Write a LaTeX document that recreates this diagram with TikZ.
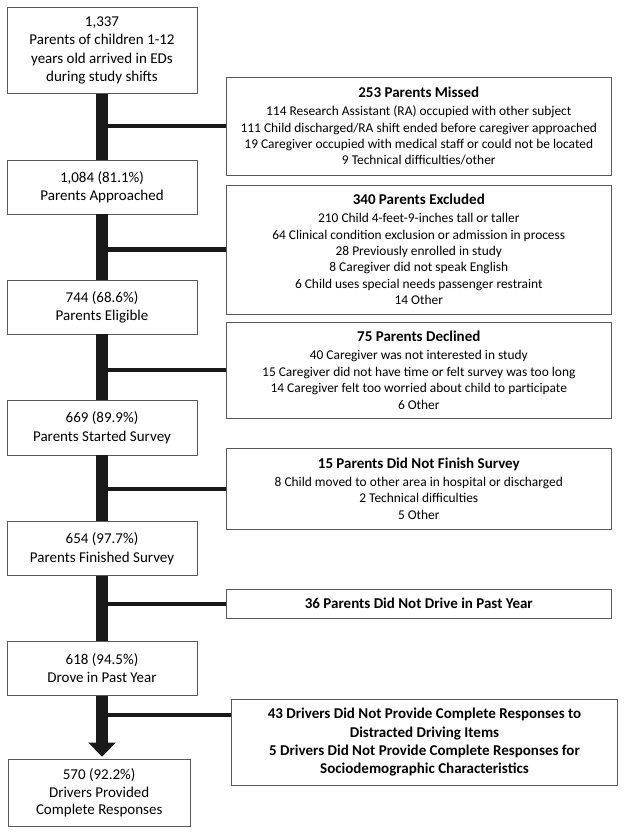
\documentclass[tikz,border=0pt]{standalone}
\usepackage{fontspec}
\setmainfont{Carlito}
\usetikzlibrary{arrows.meta,calc}
\newcommand{\hd}[1]{{\fontsize{15}{18}\selectfont\bfseries #1}}
\begin{document}
\begin{tikzpicture}[x=1pt,y=-1pt,
  lbox/.style={draw=black!65, line width=0.8pt, fill=white, minimum width=190pt, align=center,
    font=\fontsize{15}{18.3}\selectfont, inner sep=0pt},
  rbox/.style={draw=black!65, line width=0.8pt, fill=white, minimum width=385.7pt, align=center,
    font=\fontsize{13.4}{16.4}\selectfont, inner sep=0pt},
  bbox/.style={rbox, font=\fontsize{15}{18.4}\selectfont\bfseries},
  bar/.style={line width=12pt, black!90},
  branch/.style={line width=4.3pt, black!90}]
\useasboundingbox (0,0) rectangle (625,835);

% left column
\node[lbox, minimum height=86pt] (b1) at (102,50.3) {1,337\\Parents of children 1-12\\years old arrived in EDs\\during study shifts};
\node[lbox, minimum height=53.3pt] (b2) at (102,187.3) {1,084 (81.1\%)\\Parents Approached};
\node[lbox, minimum height=53.3pt] (b3) at (102,307.3) {744 (68.6\%)\\Parents Eligible};
\node[lbox, minimum height=54.3pt] (b4) at (102,427.8) {669 (89.9\%)\\Parents Started Survey};
\node[lbox, minimum height=54pt] (b5) at (102,548.7) {654 (97.7\%)\\Parents Finished Survey};
\node[lbox, minimum height=54pt] (b6) at (102,668.3) {618 (94.5\%)\\Drove in Past Year};
\node[lbox, minimum width=182.4pt, minimum height=67.7pt, font=\fontsize{15}{17.2}\selectfont] (b7) at (99.2,792.8) {570 (92.2\%)\\Drivers Provided\\Complete Responses};

% right column
\node[rbox, minimum height=97.3pt] (r1) at (418.8,126.3) {\hd{253 Parents Missed}\\[1.5pt]114 Research Assistant (RA) occupied with other subject\\111 Child discharged/RA shift ended before caregiver approached\\19 Caregiver occupied with medical staff or could not be located\\9 Technical difficulties/other};
\node[rbox, minimum height=129pt] (r2) at (418.8,249.5) {\hd{340 Parents Excluded}\\[1.5pt]210 Child 4-feet-9-inches tall or taller\\64 Clinical condition exclusion or admission in process\\28 Previously enrolled in study\\8 Caregiver did not speak English\\6 Child uses special needs passenger restraint\\14 Other};
\node[rbox, minimum height=96pt] (r3) at (418.8,370.3) {\hd{75 Parents Declined}\\[1.5pt]40 Caregiver was not interested in study\\15 Caregiver did not have time or felt survey was too long\\14 Caregiver felt too worried about child to participate\\6 Other};
\node[rbox, minimum height=80.5pt] (r4) at (418.8,488.8) {\hd{15 Parents Did Not Finish Survey}\\[1.5pt]8 Child moved to other area in hospital or discharged\\2 Technical difficulties\\5 Other};
\node[bbox, minimum height=29.3pt] (r5) at (418.8,603.7) {36 Parents Did Not Drive in Past Year};
\node[bbox, minimum width=385.6pt, minimum height=85.7pt] (r6) at (424.5,742.2) {43 Drivers Did Not Provide Complete Responses to\\Distracted Driving Items\\5 Drivers Did Not Provide Complete Responses for\\Sociodemographic Characteristics};

% main bar
\draw[bar] (b1.south) -- (b2.north);
\draw[bar] (b2.south) -- (b3.north);
\draw[bar] (b3.south) -- (b4.north);
\draw[bar] (b4.south) -- (b5.north);
\draw[bar] (b5.south) -- (b6.north);
\coordinate (tip) at ([yshift=2pt]b6.south |- b7.north);
\draw[bar, -{Triangle[width=27pt,length=14pt]}] (b6.south) -- (tip);

% branches
\draw[branch] (b1.south |- r1.west) -- (r1.west);
\draw[branch] (b1.south |- r2.west) -- (r2.west);
\draw[branch] (b1.south |- r3.west) -- (r3.west);
\draw[branch] (b1.south |- r4.west) -- (r4.west);
\draw[branch] (b1.south |- r5.west) -- (r5.west);
\coordinate (r6b) at ($(r6.north west)!0.187!(r6.south west)$);
\draw[branch] (b1.south |- r6b) -- (r6b);
\end{tikzpicture}
\end{document}
